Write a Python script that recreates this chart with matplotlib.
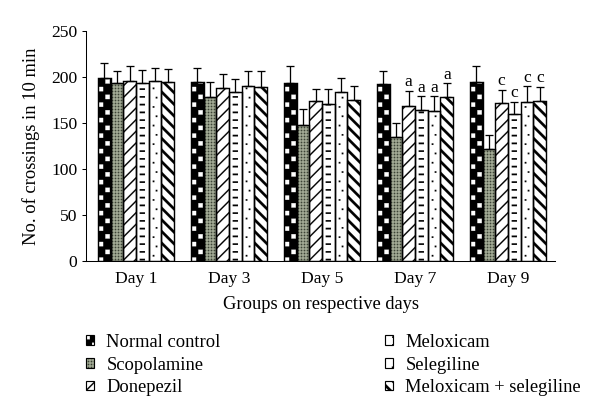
import numpy as np
import matplotlib
matplotlib.use("Agg")
import matplotlib.pyplot as plt
import matplotlib.patches as mpatches
from matplotlib import hatch as mhatch
from matplotlib.path import Path
from matplotlib.legend_handler import HandlerTuple
import warnings
warnings.filterwarnings("ignore")

# ---------------- data ----------------
days = ["Day 1", "Day 3", "Day 5", "Day 7", "Day 9"]
groups = ["Normal control", "Scopolamine", "Donepezil",
          "Meloxicam", "Selegiline", "Meloxicam + selegiline"]

normal_control = [199, 195, 194, 192, 195]
scopolamine = [194, 178, 148, 135, 122]
donepezil = [196, 188, 174, 168, 172]
meloxicam = [193, 184, 171, 164, 160]
selegiline = [196, 190, 184, 163, 173]
meloxicam_selegiline = [195, 189, 175, 178, 174]

normal_control_err = [16, 15, 18, 14, 17]
scopolamine_err = [13, 17, 17, 15, 15]
donepezil_err = [16, 15, 13, 17, 14]
meloxicam_err = [15, 14, 16, 15, 13]
selegiline_err = [14, 16, 15, 16, 17]
meloxicam_selegiline_err = [14, 17, 15, 15, 15]

# significance letters per day (one per group)
significance = [
    ["", "", "", "", "", ""],
    ["", "", "", "", "", ""],
    ["", "", "", "", "", ""],
    ["", "", "a", "a", "a", "a"],
    ["", "", "c", "c", "c", "c"],
]

y_ticks = [0, 50, 100, 150, 200, 250]
y_label = "No. of crossings in 10 min"
x_label = "Groups on respective days"

series = [normal_control, scopolamine, donepezil, meloxicam, selegiline, meloxicam_selegiline]
errors = [normal_control_err, scopolamine_err, donepezil_err, meloxicam_err,
          selegiline_err, meloxicam_selegiline_err]

# ---------------- style ----------------
plt.rcParams["font.family"] = ["Liberation Serif", "DejaVu Serif"]
plt.rcParams["hatch.linewidth"] = 0.1
FS_TICK = 13.5
FS_TEXT = 14.3

DPI = 93
W, H = 600, 417
fig = plt.figure(figsize=(6.4517, 4.4839), dpi=DPI)
ax = fig.add_axes([86 / W, (H - 261) / H, (555 - 86) / W, 230 / H])

x = np.arange(len(days))
bw = 12.7 / 93.0
offsets = (np.arange(len(groups)) - 2.5) * bw
xl = -50.0 / 93.0
ax.set_xlim(xl, xl + 469.0 / 93.0)
ax.set_ylim(0, 250)

# ---------------- custom tile hatches ----------------
HS = int(DPI)
px = 1.0 / HS


class TileHatch(mhatch.HatchPatternBase):
    key = None
    polys = []

    def __init__(self, hatch, density):
        self.active = hatch is not None and self.key in hatch
        self.num_vertices = sum(len(p) + 1 for p in self.polys) if self.active else 0

    def set_vertices_and_codes(self, vertices, codes):
        i = 0
        for p in self.polys:
            n = len(p)
            vertices[i:i + n] = p
            vertices[i + n] = p[0]
            codes[i] = Path.MOVETO
            codes[i + 1:i + n] = Path.LINETO
            codes[i + n] = Path.CLOSEPOLY
            i += n + 1


def wrap(polys):
    out = []
    for p in polys:
        p = np.asarray(p, float)
        for sx in (-1, 0, 1):
            for sy in (-1, 0, 1):
                q = p + [sx, sy]
                if (q[:, 0].max() > 0 and q[:, 0].min() < 1 and
                        q[:, 1].max() > 0 and q[:, 1].min() < 1):
                    out.append(q)
    return out


def rect(cx, cy, hw, hh):
    return [(cx - hw, cy - hh), (cx + hw, cy - hh), (cx + hw, cy + hh), (cx - hw, cy + hh)]


def register(key, polys, do_wrap=True):
    cls = type("Hatch_" + key, (TileHatch,),
               {"key": key, "polys": wrap(polys) if do_wrap else [np.asarray(p, float) for p in polys]})
    mhatch._hatch_types.append(cls)


def phase(i):
    cx = ax.transData.transform((x[0] + offsets[i], 0))[0]
    return (cx / HS) % 1.0


# Normal control: white staggered squares on black
p0 = phase(0)
polys = []
for r in range(12):
    for k in range(7):
        cx = p0 + k / 7 + ((r % 2) - 0.5) / 14
        polys.append(rect(cx, (r + 0.5) / 12, 2.2 * px, 2.2 * px))
register("Q", polys)

# Scopolamine: fine dark texture
polys = []
for r in range(31):
    for k in range(31):
        polys.append(rect((k + 0.5) / 31, (r + 0.5) / 31, 0.9 * px, 0.9 * px))
register("G", polys, do_wrap=False)

# Donepezil: thin '/' lines
polys = []
n = 8
dv = 0.65 * px * np.sqrt(2)
for k in range(-n, n + 1):
    b = k / n
    x0, x1 = -0.05, 1.05
    polys.append([(x0, x0 + b - dv), (x1, x1 + b - dv), (x1, x1 + b + dv), (x0, x0 + b + dv)])
register("L", polys, do_wrap=False)

# Meloxicam: short dashes centred in bar
p3 = phase(3)
polys = []
for r in range(12):
    for k in range(7):
        polys.append(rect(p3 + k / 7, (r + 0.5) / 12, 2.6 * px, 0.8 * px))
register("D", polys)

# Selegiline: sparse dots
p4 = phase(4)
polys = []
for r in range(10):
    for k in range(7):
        polys.append(rect(p4 + k / 7 + ((r % 2) - 0.5) * 3 * px, (r + 0.5) / 10, 0.8 * px, 0.8 * px))
register("P", polys)

# Meloxicam + selegiline: thick '\' lines
polys = []
dv = 1.3 * px * np.sqrt(2)
for k in range(0, 2 * n + 1):
    b = k / n
    x0, x1 = -0.05, 1.05
    polys.append([(x0, -x0 + b - dv), (x1, -x1 + b - dv), (x1, -x1 + b + dv), (x0, -x0 + b + dv)])
register("R", polys, do_wrap=False)

styles = [
    dict(face="black", hcol="white", hatch="Q"),
    dict(face="#c0c8b0", hcol="#3c4336", hatch="G"),
    dict(face="white", hcol="black", hatch="L"),
    dict(face="white", hcol="black", hatch="D"),
    dict(face="white", hcol="black", hatch="P"),
    dict(face="white", hcol="black", hatch="R"),
]

# ---------------- bars ----------------
handles = []
for i, (vals, errs, st) in enumerate(zip(series, errors, styles)):
    xs = x + offsets[i]
    ax.bar(xs, vals, bw, color=st["face"], edgecolor=st["hcol"], linewidth=0,
           hatch=st["hatch"], zorder=2)
    ax.bar(xs, vals, bw, fill=False, edgecolor="black", linewidth=1.1, zorder=3)
    ax.errorbar(xs, vals, yerr=[np.zeros(len(vals)), errs], fmt="none", ecolor="black",
                elinewidth=1.0, capsize=3.0, capthick=1.0, zorder=4)
    h1 = mpatches.Rectangle((0, 0), 1, 1, facecolor=st["face"], edgecolor=st["hcol"],
                            linewidth=0, hatch=st["hatch"])
    h2 = mpatches.Rectangle((0, 0), 1, 1, fill=False, edgecolor="black", linewidth=0.9)
    handles.append((h1, h2))

for d, letters in enumerate(significance):
    for i, lt in enumerate(letters):
        if lt:
            top = series[i][d] + errors[i][d]
            ax.annotate(lt, (x[d] + offsets[i], top), xytext=(0, 0.5),
                        textcoords="offset points", ha="center", va="bottom",
                        fontsize=FS_TICK, zorder=5)

# ---------------- axes ----------------
for s in ("top", "right"):
    ax.spines[s].set_visible(False)
for s in ("left", "bottom"):
    ax.spines[s].set_linewidth(0.8)
ax.set_yticks(y_ticks)
ax.set_xticks(x)
ax.set_xticklabels(days)
ax.tick_params(axis="y", direction="out", length=3.2, width=0.8, labelsize=FS_TICK, pad=3.5)
ax.tick_params(axis="x", length=0, labelsize=FS_TICK, pad=7.5)
ax.set_ylabel(y_label, fontsize=FS_TEXT, labelpad=8.5)
ax.set_xlabel(x_label, fontsize=FS_TEXT, labelpad=7.5)

# ---------------- legend ----------------
common = dict(loc="upper left", frameon=False, fontsize=FS_TEXT, borderpad=0, borderaxespad=0,
              handlelength=0.45, handleheight=0.45, handletextpad=0.65, labelspacing=0.3,
              handler_map={tuple: HandlerTuple(ndivide=1, pad=0)})
fig.legend(handles[:3], groups[:3], bbox_to_anchor=(86 / W, 1 - 334 / H), **common)
fig.legend(handles[3:], groups[3:], bbox_to_anchor=(385 / W, 1 - 334 / H), **common)

fig.savefig("out.png", dpi=DPI)
